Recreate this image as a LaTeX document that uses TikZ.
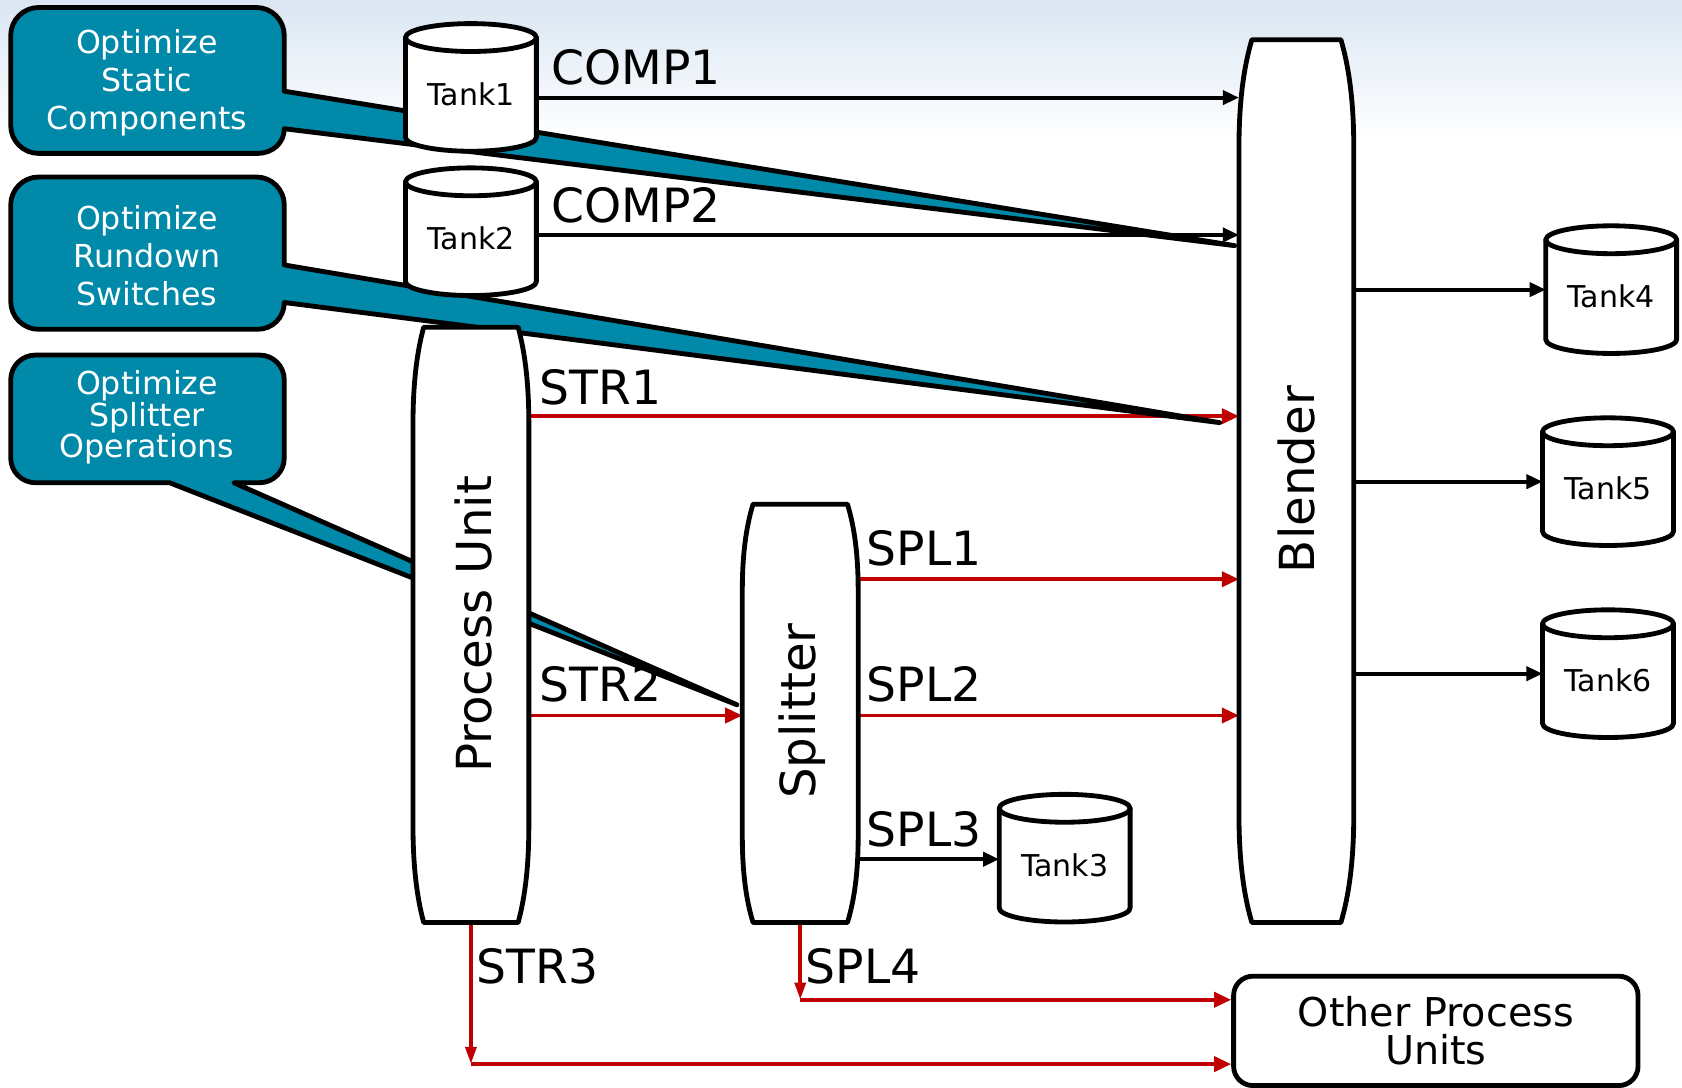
\documentclass[tikz,border=0pt]{standalone}
\usepackage{fontspec}
\setmainfont{DejaVu Sans}
\usetikzlibrary{arrows.meta}

\definecolor{calloutteal}{RGB}{0,137,168}
\definecolor{flowred}{RGB}{192,0,0}
\definecolor{headerblue}{RGB}{218,230,242}

\tikzset{
  outline/.style={draw=black, fill=white, line width=4.5pt, line join=round},
  callout/.style={draw=black, fill=calloutteal, line width=4.5pt, line join=round},
  blackflow/.style={draw=black, line width=3.6pt, -{Triangle[length=15pt,width=13pt]}},
  redflow/.style={draw=flowred, line width=3.6pt, -{Triangle[length=16pt,width=14pt]}},
  reddown/.style={draw=flowred, line width=3.6pt, -{Triangle[length=16pt,width=10pt]}},
  tankbody/.style={minimum width=122pt, minimum height=106pt, inner sep=0pt, outer sep=0pt},
  vesselbody/.style={minimum width=108pt, inner sep=0pt, outer sep=0pt},
  tanklabel/.style={font=\fontsize{28}{32}\selectfont, inner sep=0pt},
  vessellabel/.style={font=\fontsize{45}{50}\selectfont, inner sep=0pt, rotate=90},
  flowlabel/.style={font=\fontsize{44}{48}\selectfont, anchor=base west, inner sep=0pt},
  callouttext/.style={font=\fontsize{29.5}{35.5}\selectfont, text=white, align=center, inner sep=0pt},
  opubox/.style={draw=black, fill=white, line width=4.5pt, rounded corners=18pt,
    minimum width=377pt, minimum height=102pt, align=center, inner sep=0pt,
    font=\fontsize{37}{35}\selectfont},
}

% cylinder drawn round a tank node: top ellipse sits on the node's north side
\newcommand\drawtank[1]{%
  \filldraw[outline] (#1.north west) -- ([yshift=13pt]#1.south west)
    arc[start angle=180, end angle=360, x radius=61pt, y radius=13pt]
    -- (#1.north east) -- cycle;
  \filldraw[outline] (#1.north) ellipse[x radius=61pt, y radius=13pt];
}

% column vessel: straight top and bottom, sides flaring out near both ends
\newcommand\drawvessel[3]{%
  \filldraw[outline] ([xshift=#2]#1.north west) -- ([xshift=-#2]#1.north east)
    .. controls ([xshift=-#2/3, yshift=-0.27*#3]#1.north east) and ([yshift=-0.6*#3]#1.north east) .. ([yshift=-#3]#1.north east)
    -- ([yshift=#3]#1.south east)
    .. controls ([yshift=0.6*#3]#1.south east) and ([xshift=-#2/3, yshift=0.27*#3]#1.south east) .. ([xshift=-#2]#1.south east)
    -- ([xshift=#2]#1.south west)
    .. controls ([xshift=#2/3, yshift=0.27*#3]#1.south west) and ([yshift=0.6*#3]#1.south west) .. ([yshift=#3]#1.south west)
    -- ([yshift=-#3]#1.north west)
    .. controls ([yshift=-0.6*#3]#1.north west) and ([xshift=#2/3, yshift=-0.27*#3]#1.north west) .. ([xshift=#2]#1.north west)
    -- cycle;
}

\begin{document}
\begin{tikzpicture}[x=1pt, y=-1pt]
\useasboundingbox (0,0) rectangle (1568,1014);
\fill[white] (0,0) rectangle (1568,1014);
\shade[top color=headerblue, bottom color=white] (0,0) rectangle (1568,130);

% tanks, columns and the outlet box
\node[tankbody] (t1) at (439,88) {};
\node[tankbody] (t2) at (439,222.5) {};
\node[tankbody] (t3) at (992.5,806.5) {};
\node[tankbody] (t4) at (1502,276.5) {};
\node[tankbody] (t5) at (1499,455.5) {};
\node[tankbody] (t6) at (1499,634.5) {};
\node[vesselbody, minimum height=555pt] (pu) at (439,582.5) {};
\node[vesselbody, minimum height=390pt] (spl) at (746,665) {};
\node[vesselbody, minimum width=107pt, minimum height=823pt] (bl) at (1208.5,448.5) {};
\node[opubox] (opu) at (1338.5,961) {Other Process\\Units};

% stream ports
\coordinate (pcomp1) at ([yshift=-3pt]t1.east);
\coordinate (pcomp2) at ([yshift=3.5pt]t2.east);
\coordinate (pstr1) at ([yshift=-83pt]pu.north east);
\coordinate (pstr2) at ([yshift=-2pt]spl.west);
\coordinate (pspl1) at ([yshift=-70pt]spl.north east);
\coordinate (pspl2) at ([yshift=-2pt]spl.east);
\coordinate (pspl3) at ([yshift=5.5pt]t3.west);
\coordinate (pt4) at ([yshift=6.5pt]t4.west);
\coordinate (pt5) at ([yshift=6.5pt]t5.west);
\coordinate (pt6) at ([yshift=6.5pt]t6.west);
\coordinate (pspl4) at ([yshift=-72pt]spl.south);
\coordinate (pstr3) at ([yshift=-132pt]pu.south);

% streams
\draw[blackflow] (pcomp1) -- (pcomp1 -| bl.west);
\draw[blackflow] (pcomp2) -- (pcomp2 -| bl.west);
\draw[redflow] (pstr1) -- (pstr1 -| bl.west);
\draw[redflow] (pstr2 -| pu.east) -- (pstr2);
\draw[redflow] (pspl1) -- (pspl1 -| bl.west);
\draw[redflow] (pspl2) -- (pspl2 -| bl.west);
\draw[blackflow] (pspl3 -| spl.east) -- (pspl3);
\draw[blackflow] (pt4 -| bl.east) -- (pt4);
\draw[blackflow] (pt5 -| bl.east) -- (pt5);
\draw[blackflow] (pt6 -| bl.east) -- (pt6);
\draw[reddown] (spl.south) -- (pspl4);
\draw[redflow] (pspl4) -- (pspl4 -| opu.west);
\draw[reddown] (pu.south) -- (pstr3);
\draw[redflow] (pstr3) -- (pstr3 -| opu.west);

% stream names
\node[flowlabel] (lcomp1) at (514,79) {COMP1};
\node[flowlabel] (lcomp2) at (514,207) {COMP2};
\node[flowlabel] (lstr1) at (503,377) {STR1};
\node[flowlabel] (lstr2) at (503,654) {STR2};
\node[flowlabel] (lspl1) at (808,527) {SPL1};
\node[flowlabel] (lspl2) at (808,654) {SPL2};
\node[flowlabel] (lspl3) at (808,789) {SPL3};
\node[flowlabel] (lstr3) at (444,917) {STR3};
\node[flowlabel] (lspl4) at (751,917) {SPL4};

% callouts with pointers
\filldraw[callout] (36,7) -- (239,7) .. controls (253.3,7) and (265,18.7) .. (265,33)
  -- (265,85) -- (1151,229) -- (265,120)
  .. controls (265,132.7) and (254.7,143) .. (240,143)
  -- (36,143) .. controls (21.7,143) and (10,131.3) .. (10,117)
  -- (10,33) .. controls (10,18.7) and (21.7,7) .. (36,7) -- cycle;
\filldraw[callout] (36,165) -- (239,165) .. controls (253.3,165) and (265,176.7) .. (265,191)
  -- (265,247) -- (1137,394) -- (265,282)
  .. controls (265,296) and (254,307) .. (240,307)
  -- (36,307) .. controls (21.7,307) and (10,295.3) .. (10,281)
  -- (10,191) .. controls (10,176.7) and (21.7,165) .. (36,165) -- cycle;
\filldraw[callout] (33,331) -- (242,331) .. controls (254.7,331) and (265,341.3) .. (265,354)
  -- (265,427) .. controls (265,439.7) and (254.7,450) .. (242,450)
  -- (218,450) -- (687,657) -- (158,450)
  -- (33,450) .. controls (20.3,450) and (10,439.7) .. (10,427)
  -- (10,354) .. controls (10,341.3) and (20.3,331) .. (33,331) -- cycle;
\node[callouttext] (c1) at (137,77) {Optimize\\Static\\Components};
\node[callouttext] (c2) at (137,238) {Optimize\\Rundown\\Switches};
\node[callouttext, font=\fontsize{29.5}{28.5}\selectfont] (c3) at (137,389) {Optimize\\Splitter\\Operations};

% units
\drawvessel{pu}{10pt}{90pt}
\drawvessel{spl}{10pt}{80pt}
\drawvessel{bl}{12pt}{100pt}
\drawtank{t1}
\drawtank{t2}
\drawtank{t3}
\drawtank{t4}
\drawtank{t5}
\drawtank{t6}

\node[vessellabel] (lpu) at (441,582) {Process Unit};
\node[vessellabel] (lspl) at (748,663) {Splitter};
\node[vessellabel] (lbl) at (1209,447) {Blender};
\node[tanklabel] (lt1) at (t1) {Tank1};
\node[tanklabel] (lt2) at (t2) {Tank2};
\node[tanklabel] (lt3) at (t3) {Tank3};
\node[tanklabel] (lt4) at (t4) {Tank4};
\node[tanklabel] (lt5) at (t5) {Tank5};
\node[tanklabel] (lt6) at (t6) {Tank6};
\end{tikzpicture}
\end{document}
